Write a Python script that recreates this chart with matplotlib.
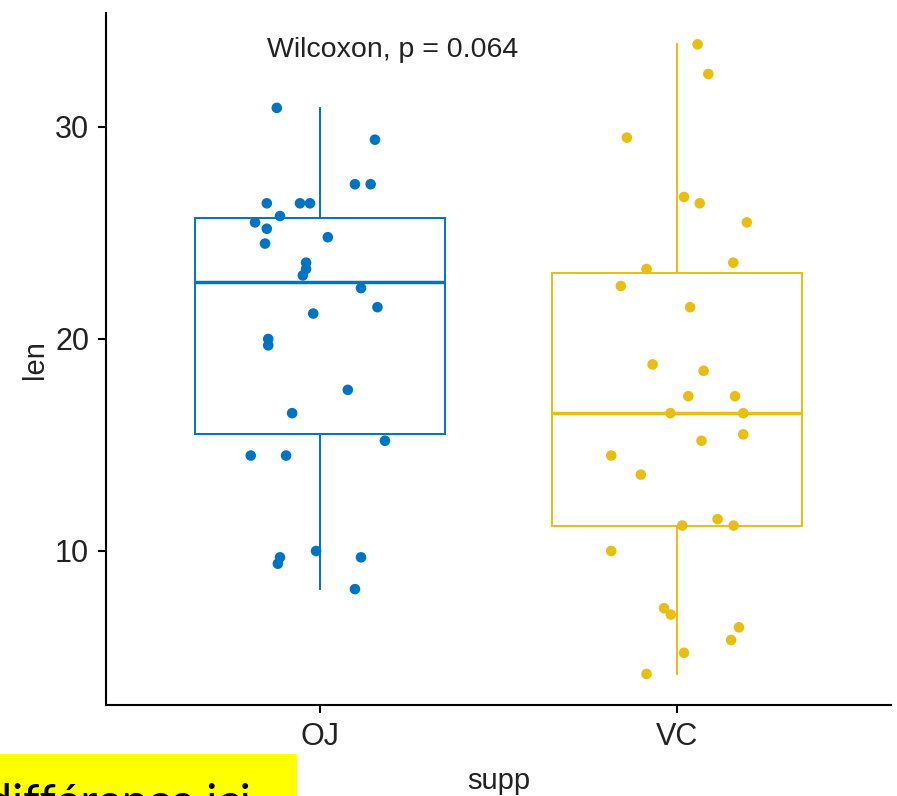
#!/usr/bin/env python3
"""Box plot of tooth length by supplement, with jittered points (ggpubr style)."""

import matplotlib

matplotlib.use("Agg")
import matplotlib.pyplot as plt
from matplotlib.patches import Rectangle

# ToothGrowth len values
oj_len = [30.9, 29.4, 27.3, 27.3, 26.4, 26.4, 26.4, 25.8, 25.5, 25.2,
          24.5, 24.8, 23.6, 23.3, 23.0, 22.4, 21.5, 21.2, 20.0, 19.7,
          17.6, 16.5, 15.2, 14.5, 14.5, 10.0, 9.7, 9.4, 9.7, 8.2]
oj_jitter = [-0.121, 0.154, 0.098, 0.142, -0.149, -0.056, -0.028, -0.112, -0.182, -0.149,
             -0.154, 0.022, -0.039, -0.039, -0.048, 0.115, 0.161, -0.019, -0.145, -0.145,
             0.078, -0.078, 0.182, -0.194, -0.095, -0.011, -0.112, -0.118, 0.115, 0.098]

vc_len = [33.9, 32.5, 29.5, 26.7, 26.4, 25.5, 23.6, 23.3, 22.5, 21.5,
          18.8, 18.5, 17.3, 17.3, 16.5, 16.5, 15.5, 15.2, 14.5, 13.6,
          11.5, 11.2, 11.2, 10.0, 7.3, 7.0, 6.4, 5.8, 5.2, 4.2]
vc_jitter = [0.058, 0.088, -0.140, 0.020, 0.064, 0.196, 0.158, -0.085, -0.157, 0.037,
             -0.068, 0.075, 0.032, 0.163, -0.018, 0.186, 0.186, 0.069, -0.184, -0.101,
             0.114, 0.015, 0.159, -0.184, -0.036, -0.017, 0.174, 0.152, 0.020, -0.085]

groups = ["OJ", "VC"]
colors = ["#0073C2", "#E8BE14"]
p_label = "Wilcoxon, p = 0.064"

plt.rcParams["font.family"] = ["Liberation Sans", "DejaVu Sans"]

fig = plt.figure(figsize=(8.97, 7.96), dpi=100)
ax = fig.add_axes([0.118, 0.1138, 0.8753, 0.8701])

for i, (vals, jit, col) in enumerate(zip([oj_len, vc_len], [oj_jitter, vc_jitter], colors)):
    pos = i + 1
    ax.boxplot(
        [vals],
        positions=[pos],
        widths=0.7,
        whis=(0, 100),
        showfliers=False,
        showcaps=False,
        patch_artist=True,
        boxprops=dict(facecolor="white", edgecolor=col, linewidth=1.4),
        whiskerprops=dict(color=col, linewidth=1.4),
        medianprops=dict(color=col, linewidth=2.5),
        zorder=2,
    )
    ax.scatter([pos + j for j in jit], vals, s=58, color=col, edgecolors="none", zorder=3)

ax.set_xlim(0.4, 2.6)
ax.set_ylim(2.715, 35.385)
ax.set_xticks([1, 2])
ax.set_xticklabels(groups)
ax.set_yticks([10, 20, 30])

for side in ("top", "right"):
    ax.spines[side].set_visible(False)
for side in ("left", "bottom"):
    ax.spines[side].set_linewidth(1.5)
    ax.spines[side].set_color("black")
ax.tick_params(axis="both", length=6, width=1.5, labelsize=22, colors="black",
               labelcolor="#222222", pad=6)

ax.set_xlabel("supp", fontsize=21, color="#222222", labelpad=11)
ax.set_ylabel("len", fontsize=21, color="#222222", labelpad=4)

ax.text(1.204, 33.29, p_label, ha="center", va="baseline", fontsize=20.5, color="#222222")

# yellow note overlay, clipped at bottom-left corner
fig.patches.append(Rectangle((0, 0), 297 / 897, 42 / 796, transform=fig.transFigure,
                             facecolor="#FFFF00", edgecolor="none", zorder=5))
fig.text(-14 / 897, -21 / 796, "différence ici", fontsize=33.5, family=["Lato", "DejaVu Sans"],
         color="black", ha="left", va="baseline", zorder=6)

fig.savefig("out.png", dpi=100)
